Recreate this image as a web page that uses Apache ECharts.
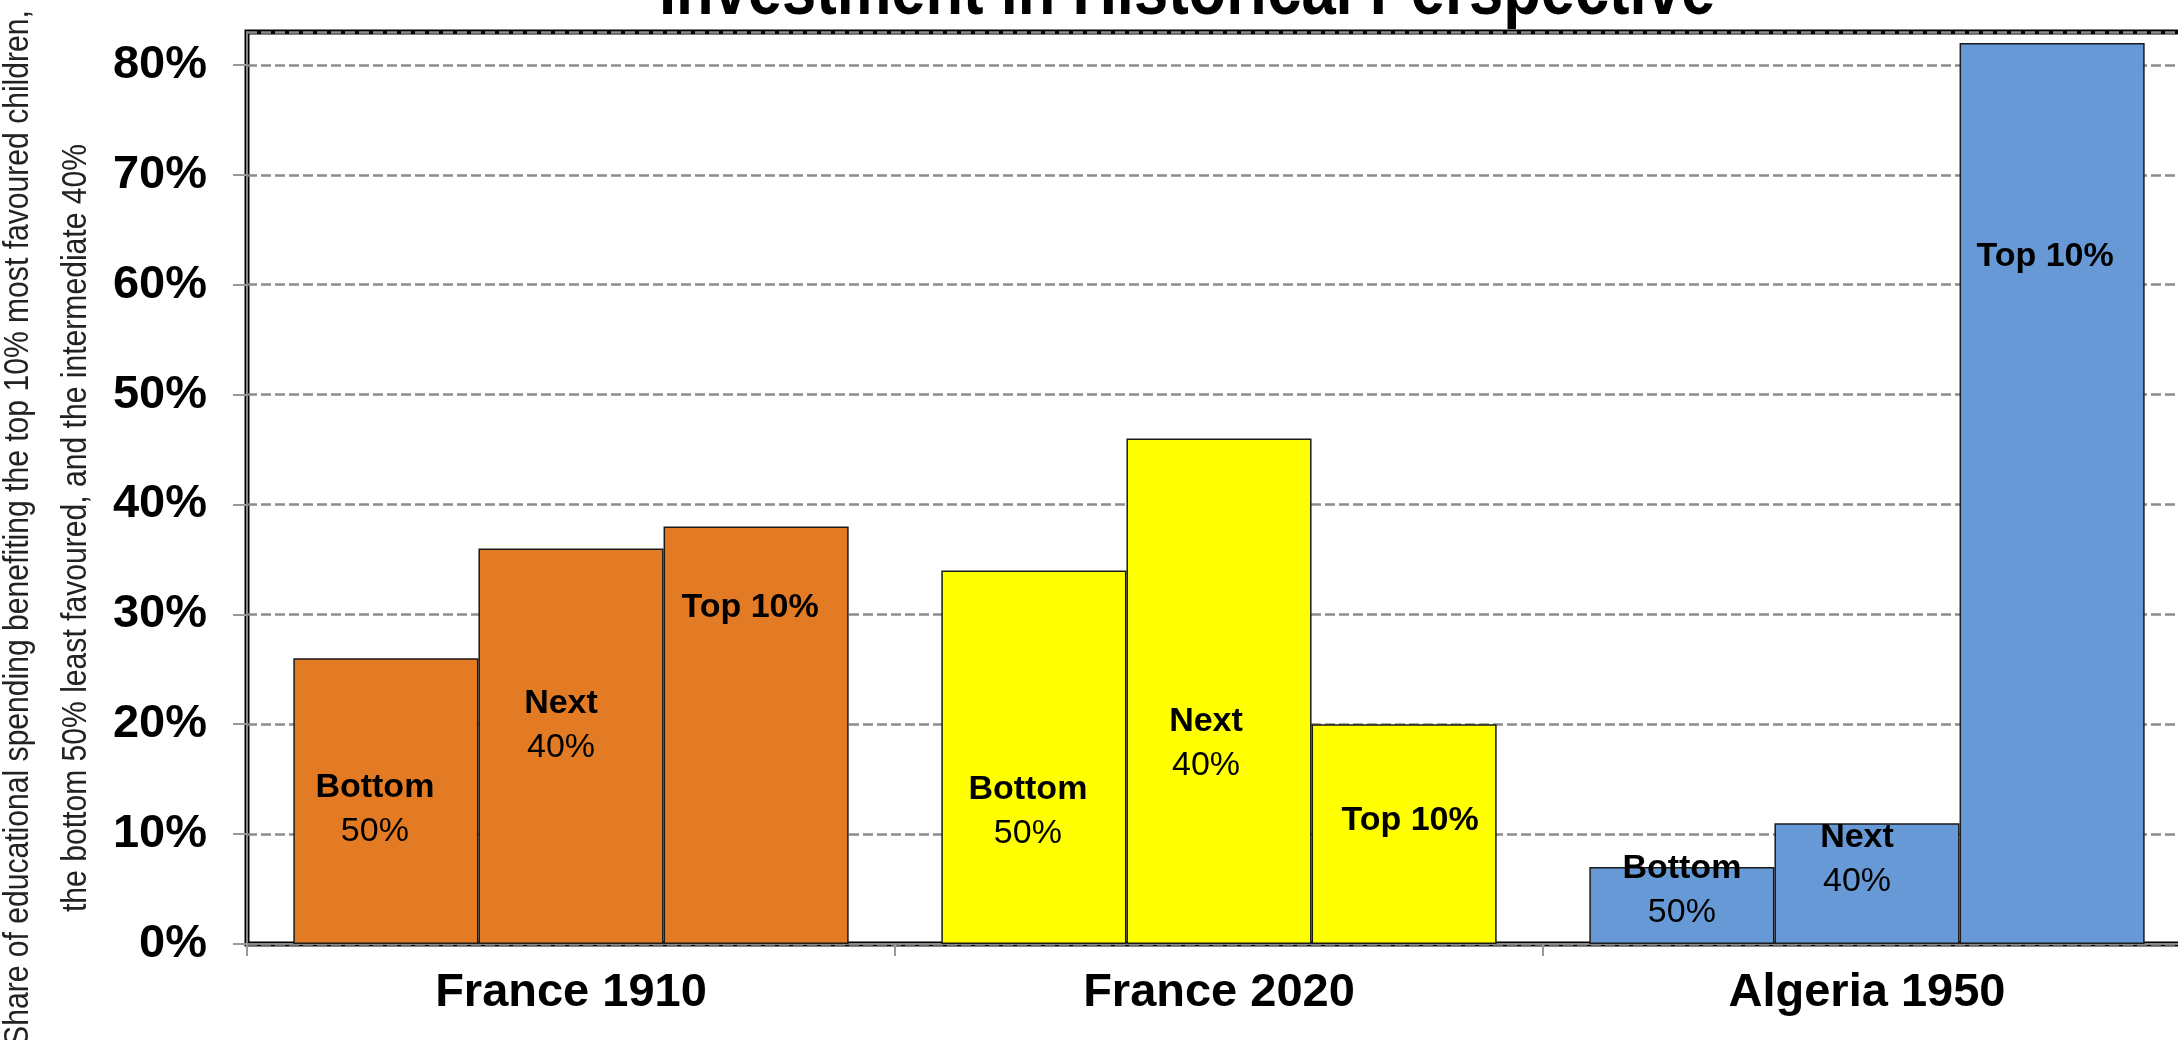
<!DOCTYPE html>
<html>
<head>
<meta charset="utf-8">
<script src="https://cdn.jsdelivr.net/npm/echarts@6/dist/echarts.min.js"></script>
<style>
  html, body { margin: 0; padding: 0; background: #fff; }
  #main { width: 2178px; height: 1040px; }
</style>
</head>
<body>
<div id="main"></div>
<script>
// categories and values (%)
const categories = ["France 1910", "France 2020", "Algeria 1950"];
const bottom50 = [26, 34, 7];
const next40 = [36, 46, 11];
const top10 = [38, 20, 82];
const groupColors = ["#E37B24", "#FFFF00", "#6699D5"];
const yTicks = [0, 10, 20, 30, 40, 50, 60, 70, 80];

// label nudges inside each bar [dx, dy], per series / category
const bottomOffsets = [[-11, 8], [-6, 54], [0, -15]];
const nextOffsets = [[-10, -21], [-13, 52], [-10, -24]];
const topOffsets = [[-6, -128], [6, -13], [-7, -237]];

let chartDom = document.getElementById("main");
let myChart = echarts.init(chartDom);
let option;

const richText = {
  b: { fontFamily: "Liberation Sans, Arial", fontWeight: "bold", fontSize: 34, lineHeight: 44, color: "#000" },
  n: { fontFamily: "Liberation Sans, Arial", fontWeight: "normal", fontSize: 34, lineHeight: 44, color: "#000" },
};

function buildData(values, offsets) {
  return values.map((v, i) => ({
    value: v,
    itemStyle: { color: groupColors[i] },
    label: { offset: offsets[i] },
  }));
}

function makeSeries(name, values, offsets, fmt) {
  return {
    name: name,
    type: "bar",
    barGap: "0%",
    barCategoryGap: "14.3%",
    itemStyle: { borderColor: "#1a1a1a", borderWidth: 1.5 },
    label: {
      show: true,
      position: "inside",
      formatter: fmt,
      rich: richText,
    },
    data: buildData(values, offsets),
  };
}

option = {
  backgroundColor: "#fff",
  animation: false,
  grid: {
    left: 247,
    top: 32,
    right: -13, // plot runs past the right edge
    bottom: 96,
    outerBoundsMode: "none",
    show: true,
    borderColor: "#000",
    borderWidth: 5,
    backgroundColor: "transparent",
  },
  graphic: [
    {
      // title, cut off at the top like the original slide
      type: "text",
      x: 1187,
      y: -7,
      scaleX: 0.82,
      style: {
        text: "Investment in Historical Perspective",
        font: "bold 75px 'Liberation Sans', Arial, sans-serif",
        fill: "#000",
        textAlign: "center",
        textVerticalAlign: "middle",
      },
    },
    {
      type: "text",
      x: 47,
      y: 528,
      rotation: Math.PI / 2,
      scaleX: 0.86,
      style: {
        text: "Share of educational spending benefiting the top 10% most favoured children,\nthe bottom 50% least favoured, and the intermediate 40%",
        font: "35px 'Liberation Sans', Arial, sans-serif",
        fill: "#222",
        textAlign: "center",
        textVerticalAlign: "middle",
        lineHeight: 58,
      },
    },
  ],
  xAxis: {
    type: "category",
    data: categories,
    axisLine: { show: true, lineStyle: { color: "#888", width: 2 } },
    axisTick: { show: true, length: 12, lineStyle: { color: "#999", width: 2 } },
    axisLabel: {
      margin: 26,
      fontFamily: "Liberation Sans, Arial",
      fontWeight: "bold",
      fontSize: 47,
      color: "#000",
    },
  },
  yAxis: {
    type: "value",
    min: yTicks[0],
    max: 83,
    interval: 10,
    axisLine: { show: true, lineStyle: { color: "#888", width: 2 } },
    axisTick: { show: true, length: 14, lineStyle: { color: "#999", width: 2 } },
    axisLabel: {
      margin: 40,
      showMaxLabel: false,
      fontFamily: "Liberation Sans, Arial",
      fontWeight: "bold",
      fontSize: 47,
      color: "#000",
      formatter: (v) => (yTicks.includes(v) ? v + "%" : ""),
    },
    splitLine: {
      show: true,
      lineStyle: { color: "#8c8c8c", width: 2.5, type: [10, 4] },
    },
  },
  series: [
    makeSeries("Bottom 50%", bottom50, bottomOffsets, "{b|Bottom}\n{n|50%}"),
    makeSeries("Next 40%", next40, nextOffsets, "{b|Next}\n{n|40%}"),
    makeSeries("Top 10%", top10, topOffsets, "{b|Top 10%}"),
  ],
};

option && myChart.setOption(option);
</script>
</body>
</html>
